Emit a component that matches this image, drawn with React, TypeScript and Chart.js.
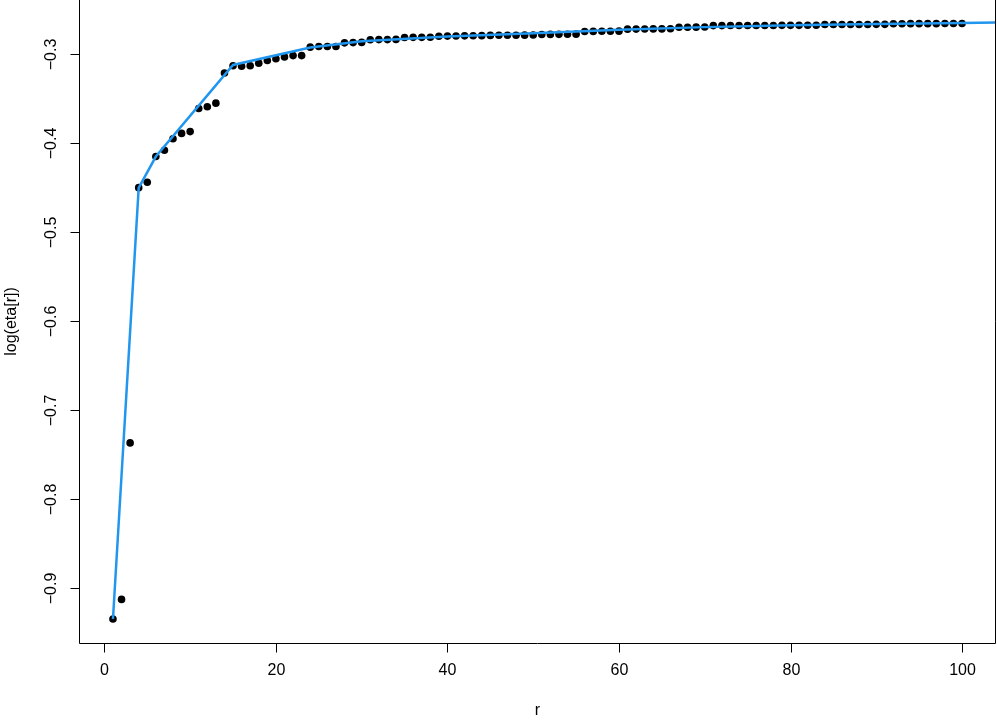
import React, { useEffect, useRef } from "react";
import { Chart, registerables } from "chart.js";

Chart.register(...registerables);

const rValues = [
  1, 2, 3, 4, 5, 6, 7, 8, 9, 10, 11, 12, 13, 14, 15, 16, 17, 18, 19, 20,
  21, 22, 23, 24, 25, 26, 27, 28, 29, 30, 31, 32, 33, 34, 35, 36, 37, 38, 39, 40,
  41, 42, 43, 44, 45, 46, 47, 48, 49, 50, 51, 52, 53, 54, 55, 56, 57, 58, 59, 60,
  61, 62, 63, 64, 65, 66, 67, 68, 69, 70, 71, 72, 73, 74, 75, 76, 77, 78, 79, 80,
  81, 82, 83, 84, 85, 86, 87, 88, 89, 90, 91, 92, 93, 94, 95, 96, 97, 98, 99, 100,
];

const logEta = [
  -0.935, -0.913, -0.737, -0.45, -0.444, -0.415, -0.408, -0.395, -0.389, -0.387,
  -0.361, -0.359, -0.355, -0.321, -0.313, -0.3135, -0.313, -0.31, -0.307, -0.305,
  -0.303, -0.3015, -0.3015, -0.292, -0.2913, -0.2913, -0.2913, -0.2872, -0.2869, -0.2867,
  -0.2837, -0.2835, -0.2835, -0.2833, -0.2811, -0.281, -0.281, -0.2809, -0.2798, -0.2796,
  -0.2795, -0.2793, -0.2792, -0.2791, -0.2788, -0.2787, -0.2786, -0.2786, -0.2785, -0.2784,
  -0.2778, -0.2777, -0.2776, -0.2775, -0.2774, -0.2745, -0.2743, -0.2742, -0.2741, -0.274,
  -0.2718, -0.2717, -0.2716, -0.2715, -0.2715, -0.2714, -0.2697, -0.2696, -0.2695, -0.2694,
  -0.2678, -0.2678, -0.2677, -0.2677, -0.2677, -0.2676, -0.2676, -0.2676, -0.2675, -0.2675,
  -0.2675, -0.2674, -0.2674, -0.2666, -0.2666, -0.2665, -0.2665, -0.2665, -0.2665, -0.2664,
  -0.2664, -0.2657, -0.2657, -0.2656, -0.2656, -0.2656, -0.2656, -0.2655, -0.2655, -0.2655,
];

const fitR = [1, 4, 6, 15, 24, 30, 40, 50, 60, 70, 80, 90, 100, 110];
const fitLogEta = [
  -0.935, -0.4502, -0.415, -0.312, -0.2925, -0.2855, -0.28, -0.2765, -0.2725,
  -0.2695, -0.2675, -0.266, -0.2648, -0.2638,
];

const xTicks = [0, 20, 40, 60, 80, 100];
const yTicks = [-0.9, -0.8, -0.7, -0.6, -0.5, -0.4, -0.3];

const X_MIN = -2.96;
const X_MAX = 103.96;
const Y_MIN = -0.962;
const Y_MAX = -0.239;

const FONT = '16px "Liberation Sans", Arial, Helvetica, sans-serif';

const fmtY = (v: number) => (v < 0 ? "\u2212" : "") + Math.abs(v).toFixed(1);

const rAxesPlugin = {
  id: "rAxes",
  afterDraw(chart: any) {
    const { ctx, chartArea } = chart;
    const xs = chart.scales.x;
    const ys = chart.scales.y;
    ctx.save();
    ctx.strokeStyle = "#000";
    ctx.lineWidth = 1;
    ctx.beginPath();
    ctx.moveTo(Math.round(chartArea.left) + 0.5, chartArea.top);
    ctx.lineTo(Math.round(chartArea.left) + 0.5, Math.round(chartArea.bottom) + 0.5);
    ctx.lineTo(Math.round(chartArea.right) - 0.5, Math.round(chartArea.bottom) + 0.5);
    ctx.lineTo(Math.round(chartArea.right) - 0.5, chartArea.top);
    ctx.stroke();

    ctx.fillStyle = "#000";
    ctx.font = FONT;
    const by = Math.round(chartArea.bottom) + 0.5;
    ctx.textAlign = "center";
    ctx.textBaseline = "middle";
    for (const t of xTicks) {
      const px = Math.round(xs.getPixelForValue(t)) + 0.5;
      ctx.beginPath();
      ctx.moveTo(px, by);
      ctx.lineTo(px, by + 9);
      ctx.stroke();
      ctx.fillText(String(t), px, by + 27);
    }
    const lx = Math.round(chartArea.left) + 0.5;
    for (const t of yTicks) {
      const py = Math.round(ys.getPixelForValue(t)) + 0.5;
      ctx.beginPath();
      ctx.moveTo(lx, py);
      ctx.lineTo(lx - 9, py);
      ctx.stroke();
      ctx.save();
      ctx.translate(52, py);
      ctx.rotate(-Math.PI / 2);
      ctx.fillText(fmtY(t), 0, 0);
      ctx.restore();
    }
    const cx = (chartArea.left + chartArea.right) / 2;
    ctx.fillText("r", cx, 711);
    ctx.save();
    ctx.translate(12, (chartArea.top + chartArea.bottom) / 2);
    ctx.rotate(-Math.PI / 2);
    ctx.fillText("log(eta[r])", 0, 0);
    ctx.restore();
    ctx.restore();
  },
};

export default function App() {
  const ref = useRef<HTMLCanvasElement | null>(null);
  useEffect(() => {
    if (!ref.current) return;
    const points = rValues.map((r, i) => ({ x: r, y: logEta[i] }));
    const fit = fitR.map((r, i) => ({ x: r, y: fitLogEta[i] }));
    const chart = new Chart(ref.current, {
      type: "scatter",
      data: {
        datasets: [
          {
            type: "line",
            label: "fit",
            data: fit,
            borderColor: "#2196EE",
            borderWidth: 2.5,
            pointRadius: 0,
            fill: false,
            tension: 0,
            order: 0,
          } as any,
          {
            type: "scatter",
            label: "log(eta[r])",
            data: points,
            backgroundColor: "#000",
            borderColor: "#000",
            borderWidth: 0,
            pointRadius: 3.8,
            order: 1,
          },
        ],
      },
      options: {
        animation: false,
        responsive: false,
        devicePixelRatio: 1,
        layout: { autoPadding: false, padding: { left: 79, right: 1, top: 0, bottom: 80 } },
        plugins: {
          legend: { display: false },
          tooltip: { enabled: false },
        },
        scales: {
          x: { type: "linear", min: X_MIN, max: X_MAX, display: false },
          y: { type: "linear", min: Y_MIN, max: Y_MAX, display: false },
        },
      },
      plugins: [rAxesPlugin],
    });
    return () => chart.destroy();
  }, []);
  return (
    <div style={{ position: "fixed", left: 0, top: 0, width: 997, height: 723, background: "#fff" }}>
      <canvas ref={ref} width={997} height={723} style={{ width: 997, height: 723, display: "block" }} />
    </div>
  );
}
